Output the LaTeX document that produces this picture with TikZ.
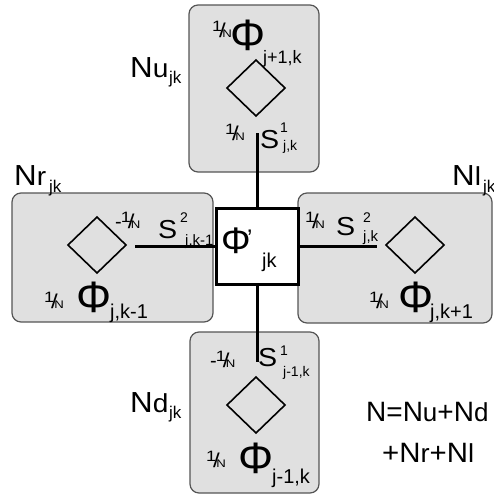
\documentclass[tikz,border=0pt]{standalone}
\usepackage{graphicx}
\usepackage{fontspec}
\setmainfont{Liberation Sans}
\definecolor{boxfill}{HTML}{E0E0E0}
\definecolor{boxedge}{HTML}{555555}
% font size in pt (1pt = 1 unit of the picture)
\newcommand\fs[1]{\fontsize{#1}{#1}\selectfont}
% widened lettering
\newcommand\wide[2][1.1]{\scalebox{#1}[1]{#2}}
% the small "1/N" fraction
\newcommand\oneN{\wide[1.2]{\raisebox{6pt}{\fs{15}1}\kern-2.5pt{\fs{20}/}\kern-3pt{\fs{11}N}}}
% slightly smaller lowercase letters in the N labels
\newcommand\lc[2]{{\fs{#1}#2}}
\begin{document}
\begin{tikzpicture}[x=1pt,y=-1pt,
  cell/.style={draw=boxedge, fill=boxfill, line width=1.2pt, rounded corners=9pt},
  core/.style={draw=black, fill=white, line width=3.5pt, inner sep=0pt, outer sep=0pt,
               minimum width=82pt, minimum height=76pt},
  gate/.style={draw=black, line width=1.6pt},
  wire/.style={line width=2.2pt},
  txt/.style={inner sep=0pt, anchor=base west},
]
\useasboundingbox (0,0) rectangle (494,496);

% the four neighbour cells
\draw[cell] (189,5) rectangle (319,172);
\draw[cell] (12,193) rectangle (213,322);
\draw[cell] (298,193) rectangle (492,323);
\draw[cell] (190,332) rectangle (319,493);

% diamonds
\draw[gate] (227,88) -- (256,60) -- (285,88) -- (256,116) -- cycle;
\draw[gate] (68,245) -- (97,217) -- (126,245) -- (97,273) -- cycle;
\draw[gate] (386,245) -- (415,217) -- (444,245) -- (415,273) -- cycle;
\draw[gate] (227,405) -- (256,377) -- (285,405) -- (256,433) -- cycle;

% central cell and its connectors
\node[core] (cphi) at (257.5,246.5) {};
\coordinate (upend) at (257.5,133);
\coordinate (downend) at (257.5,362);
\coordinate (leftend) at (135,246.5);
\coordinate (rightend) at (377,246.5);
\draw[wire] (cphi.north) -- (upend);
\draw[wire] (cphi.south) -- (downend);
\draw[wire] (cphi.west) -- (leftend);
\draw[wire] (cphi.east) -- (rightend);

% central label
\node[txt] (cP) at (221,253) {\fs{37}Φ};
\node[txt] (cPr) at (247,246) {\fs{24}’};
\node[txt] (cPs) at (262,267) {\fs{20}jk};

% upper cell
\node[txt] (uF) at (212,37) {\oneN};
\node[txt] (uP) at (230,50) {\fs{44}Φ};
\node[txt] (uPs) at (263,63) {\fs{18}j+1,k};
\node[txt] (uN) at (225,140) {\oneN};
\node[txt] (uS) at (260,148) {\wide{\fs{26}S}};
\node[txt] (uSt) at (280,132) {\fs{14}1};
\node[txt] (uSs) at (283,150) {\fs{14}j,k};

% left cell
\node[txt] (lF) at (115,228) {\fs{20}-\kern-1pt\oneN};
\node[txt] (lS) at (158,238) {\wide{\fs{26}S}};
\node[txt] (lSt) at (180,222) {\fs{14}2};
\node[txt] (lSs) at (185,245) {\fs{15}j,k-1};
\node[txt] (lN) at (44,308) {\oneN};
\node[txt] (lP) at (76,312) {\fs{44}Φ};
\node[txt] (lPs) at (110,318) {\fs{20}j,k-1};

% right cell
\node[txt] (rF) at (305,228) {\oneN};
\node[txt] (rS) at (336,235) {\wide{\fs{26}S}};
\node[txt] (rSt) at (363,222) {\fs{14}2};
\node[txt] (rSs) at (363,241) {\fs{15}j,k};
\node[txt] (rN) at (369,308) {\oneN};
\node[txt] (rP) at (398,312) {\fs{44}Φ};
\node[txt] (rPs) at (430,318) {\fs{20}j,k+1};

% lower cell
\node[txt] (dF) at (210,367) {\fs{20}-\kern-1pt\oneN};
\node[txt] (dS) at (258,366) {\wide{\fs{26}S}};
\node[txt] (dSt) at (280,355) {\fs{14}1};
\node[txt] (dSs) at (283,376) {\fs{14}j-1,k};
\node[txt] (dN) at (206,467) {\oneN};
\node[txt] (dP) at (238,473) {\fs{44}Φ};
\node[txt] (dPs) at (272,483) {\fs{20}j-1,k};

% cell names
\node[txt] (nu) at (130,77) {\wide[1.08]{\fs{29}N\lc{26}{u}}};
\node[txt] (nus) at (169,83) {\fs{17}jk};
\node[txt] (nr) at (14,185) {\wide[1.08]{\fs{29}N\lc{26}{r}}};
\node[txt] (nrs) at (49,192) {\fs{17}jk};
\node[txt] (nl) at (452,185) {\wide[1.08]{\fs{29}N\lc{26}{l}}};
\node[txt] (nls) at (483,192) {\fs{17}jk};
\node[txt] (nd) at (130,412) {\wide[1.08]{\fs{29}N\lc{26}{d}}};
\node[txt] (nds) at (169,418) {\fs{17}jk};

% total count
\node[txt] (sum1) at (366,421) {\fs{28}N=N\lc{26}{u}+N\lc{26}{d}};
\node[txt] (sum2) at (382,462) {\wide[1.05]{\fs{28}+N\lc{26}{r}+N\lc{26}{l}}};
\end{tikzpicture}
\end{document}
